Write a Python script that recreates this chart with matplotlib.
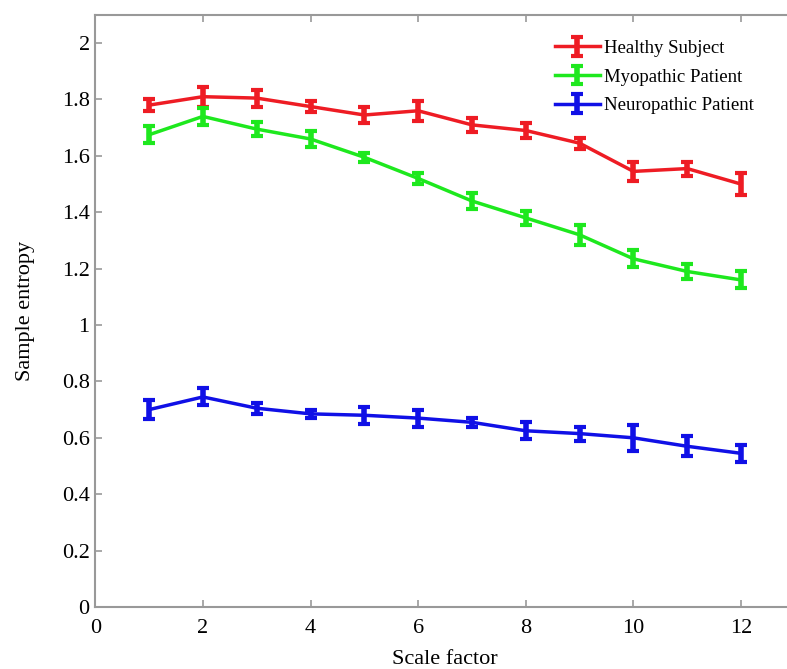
import matplotlib.pyplot as plt

plt.rcParams['font.family'] = ['Liberation Serif', 'DejaVu Serif']

scales = [1, 2, 3, 4, 5, 6, 7, 8, 9, 10, 11, 12]

healthy = [1.78, 1.81, 1.805, 1.775, 1.745, 1.76, 1.71, 1.69, 1.645, 1.545, 1.555, 1.50]
healthy_err = [0.02, 0.035, 0.03, 0.02, 0.03, 0.035, 0.025, 0.025, 0.02, 0.035, 0.025, 0.04]

myopathic = [1.675, 1.74, 1.695, 1.66, 1.595, 1.52, 1.44, 1.38, 1.32, 1.235, 1.19, 1.16]
myopathic_err = [0.03, 0.03, 0.025, 0.03, 0.015, 0.02, 0.03, 0.025, 0.035, 0.03, 0.025, 0.03]

neuropathic = [0.70, 0.745, 0.705, 0.685, 0.68, 0.67, 0.655, 0.625, 0.615, 0.60, 0.57, 0.545]
neuropathic_err = [0.035, 0.03, 0.02, 0.015, 0.03, 0.03, 0.015, 0.03, 0.025, 0.045, 0.035, 0.03]

fig = plt.figure(figsize=(7.87, 6.69), dpi=100)
ax = fig.add_axes([0.121, 0.0927, 0.889, 0.885])

style = dict(linewidth=2.5, elinewidth=4, capsize=4, capthick=3)
ax.errorbar(scales, healthy, yerr=healthy_err, color='#ee1c24', label='Healthy Subject', **style)
ax.errorbar(scales, myopathic, yerr=myopathic_err, color='#1ee81e', label='Myopathic Patient', **style)
ax.errorbar(scales, neuropathic, yerr=neuropathic_err, color='#1010e6', label='Neuropathic Patient', **style)

ax.set_xlim(0, 13)
ax.set_ylim(0, 2.1)
ax.set_xticks([0, 2, 4, 6, 8, 10, 12])
ax.set_yticks([0, 0.2, 0.4, 0.6, 0.8, 1, 1.2, 1.4, 1.6, 1.8, 2])
ax.set_yticklabels(['0', '0.2', '0.4', '0.6', '0.8', '1', '1.2', '1.4', '1.6', '1.8', '2'])

for s in ['left', 'bottom', 'top']:
    ax.spines[s].set_color('#999999')
    ax.spines[s].set_linewidth(1.5)
ax.spines['right'].set_visible(False)
ax.tick_params(direction='in', top=True, right=False, color='#999999',
               labelsize=16, length=5, width=1.2)
ax.tick_params(axis='x', pad=9)
ax.tick_params(axis='y', pad=4)

ax.set_xlabel('Scale factor', fontsize=16, labelpad=8)
ax.set_ylabel('Sample entropy', fontsize=16, labelpad=19)

ax.legend(loc='upper left', bbox_to_anchor=(0.657, 0.958), frameon=False, fontsize=13.5,
          borderaxespad=0, borderpad=0,
          handlelength=2.4, handletextpad=0.2, labelspacing=0.62)

fig.savefig('out.png', dpi=100)
